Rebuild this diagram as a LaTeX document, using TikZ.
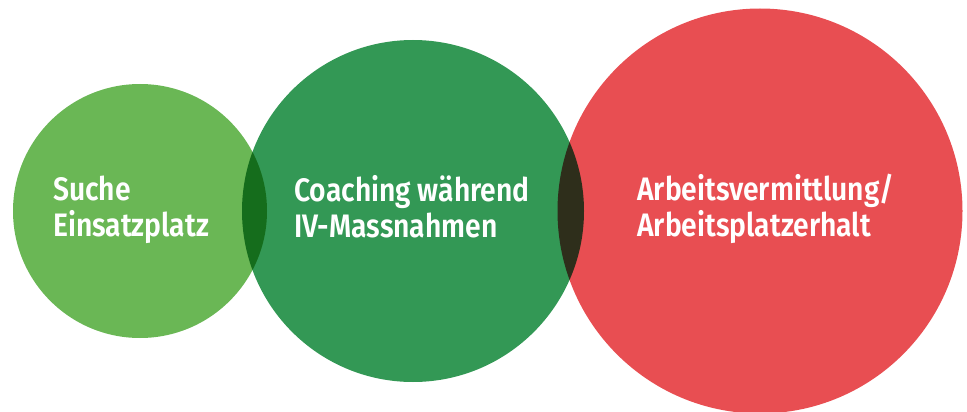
\documentclass[tikz,border=0pt]{standalone}
\usepackage{fontspec}
\setmainfont{Fira Sans}[UprightFont={* Medium},BoldFont={* SemiBold},FakeStretch=0.87]
\definecolor{lightgreen}{HTML}{6AB755}
\definecolor{darkgreen}{HTML}{339855}
\definecolor{redc}{HTML}{E84E52}
\begin{document}
\begin{tikzpicture}[x=1pt,y=-1pt,
  bubble/.style={circle,inner sep=0pt,draw=none},
  label/.style={text=white,font=\bfseries\fontsize{32.5}{36}\selectfont,align=left,anchor=base west,inner sep=0pt}]
\useasboundingbox (0,0) rectangle (967,412);
\clip (0,0) rectangle (967,412);
\begin{scope}[blend group=multiply]
\node[bubble,fill=lightgreen,minimum size=254pt] (c1) at (140,211) {};
\node[bubble,fill=darkgreen,minimum size=342pt] (c2) at (413,211) {};
\node[bubble,fill=redc,minimum size=405pt] (c3) at (760,211) {};
\end{scope}
\node[label] (t1) at (53,236) {Suche\\Einsatzplatz};
\node[label] (t2) at (294,237) {Coaching während\\IV-Massnahmen};
\node[label] (t3) at (637,236) {Arbeitsvermittlung/\\Arbeitsplatzerhalt};
\end{tikzpicture}
\end{document}
